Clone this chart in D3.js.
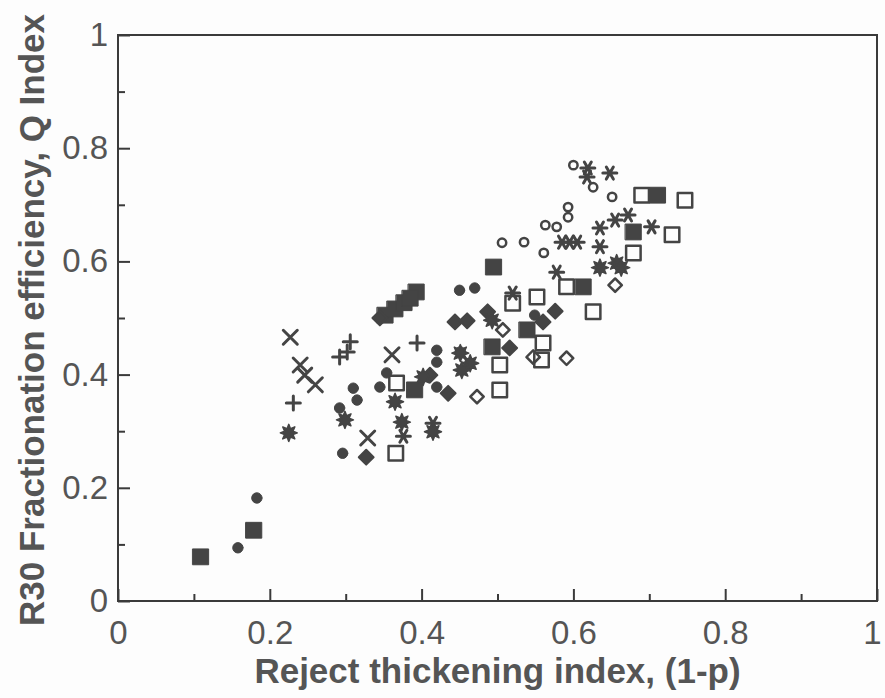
<!DOCTYPE html>
<html>
<head>
<meta charset="utf-8">
<script src="https://cdn.jsdelivr.net/npm/d3@7"></script>
<style>
  body { margin: 0; background: #fdfdfd; }
  svg { display: block; }
  text { font-family: "Liberation Sans", Arial, sans-serif; fill: #555; }
</style>
</head>
<body>
<div id="container"></div>
<script>
/* CONSTANTS AND GLOBALS */
const width = 885;
const height = 698;
const margin = { top: 35, right: 8, bottom: 97, left: 118 };
const ink = "#444";

/* DATA: [reject thickening index, Q index] */
const filledSquares = [
  [0.109, 0.078], [0.179, 0.125], [0.352, 0.505], [0.365, 0.516], [0.377, 0.527],
  [0.393, 0.546], [0.385, 0.535], [0.495, 0.590], [0.391, 0.373], [0.493, 0.449],
  [0.539, 0.479], [0.613, 0.555], [0.679, 0.652], [0.711, 0.717]
];
const openSquares = [
  [0.367, 0.385], [0.366, 0.261], [0.520, 0.526], [0.552, 0.537], [0.591, 0.555],
  [0.626, 0.511], [0.560, 0.456], [0.558, 0.426], [0.503, 0.417], [0.503, 0.373],
  [0.679, 0.615], [0.690, 0.717], [0.730, 0.647], [0.747, 0.708]
];
const filledCircles = [
  [0.158, 0.094], [0.183, 0.182], [0.310, 0.376], [0.315, 0.355], [0.345, 0.378],
  [0.354, 0.403], [0.292, 0.341], [0.296, 0.261], [0.450, 0.549], [0.470, 0.553],
  [0.451, 0.440], [0.420, 0.443], [0.420, 0.422], [0.420, 0.378], [0.549, 0.505]
];
const openCircles = [
  [0.600, 0.770], [0.626, 0.731], [0.651, 0.714], [0.593, 0.696], [0.593, 0.678],
  [0.506, 0.633], [0.535, 0.634], [0.563, 0.664], [0.578, 0.661], [0.561, 0.615]
];
const filledDiamonds = [
  [0.411, 0.399], [0.435, 0.367], [0.487, 0.511], [0.516, 0.447], [0.560, 0.493],
  [0.576, 0.512], [0.444, 0.493], [0.460, 0.495], [0.327, 0.254], [0.345, 0.500]
];
const openDiamonds = [
  [0.507, 0.479], [0.473, 0.361], [0.547, 0.431], [0.591, 0.429], [0.655, 0.558]
];
const crosses = [
  [0.227, 0.466], [0.240, 0.417], [0.246, 0.399], [0.260, 0.382], [0.361, 0.435],
  [0.329, 0.288]
];
const pluses = [
  [0.306, 0.458], [0.292, 0.431], [0.302, 0.440], [0.394, 0.456], [0.231, 0.350]
];
const asterisks = [
  [0.619, 0.765], [0.618, 0.749], [0.648, 0.756], [0.672, 0.682], [0.655, 0.673],
  [0.703, 0.661], [0.635, 0.659], [0.585, 0.634], [0.595, 0.634], [0.605, 0.634],
  [0.635, 0.626], [0.578, 0.581], [0.520, 0.544], [0.376, 0.291], [0.415, 0.314]
];
const filledStars = [
  [0.225, 0.297], [0.365, 0.352], [0.299, 0.320], [0.374, 0.316], [0.415, 0.299],
  [0.657, 0.597], [0.635, 0.589], [0.663, 0.589], [0.493, 0.496], [0.451, 0.438],
  [0.464, 0.420], [0.453, 0.408], [0.402, 0.396]
];
const majorTicks = [0, 0.2, 0.4, 0.6, 0.8, 1];
const minorTicks = [0.1, 0.3, 0.5, 0.7, 0.9];

/* SCALES */
const xScale = d3.scaleLinear().domain([0, 1]).range([margin.left, width - margin.right]);
const yScale = d3.scaleLinear().domain([0, 1]).range([height - margin.bottom, margin.top]);

/* SVG ELEMENT */
const svg = d3.select("#container")
  .append("svg")
  .attr("width", width)
  .attr("height", height);

/* FRAME */
svg.append("rect")
  .attr("x", margin.left)
  .attr("y", margin.top)
  .attr("width", width - margin.left - margin.right)
  .attr("height", height - margin.top - margin.bottom)
  .attr("fill", "none")
  .attr("stroke", "#3a3a3a")
  .attr("stroke-width", 2);

/* AXES (ticks pointing inward) */
const fmt = d => d === 0 || d === 1 ? String(d) : d3.format(".1f")(d);
const bottomY = height - margin.bottom;

function styleAxis(g) {
  g.selectAll(".domain").remove();
  g.selectAll("line").attr("stroke", "#3a3a3a").attr("stroke-width", 2);
  g.selectAll("text")
    .style("font-size", "33px")
    .style("font-family", "'Liberation Sans', Arial, sans-serif")
    .attr("fill", "#5a5a5a");
}

svg.append("g")
  .attr("transform", `translate(0, ${bottomY})`)
  .call(d3.axisBottom(xScale).tickValues(majorTicks).tickFormat(fmt).tickSizeInner(-12).tickPadding(20))
  .call(styleAxis)
  .selectAll("text")
  .attr("dx", d => d === 1 ? "-5" : null); // keep the last label inside the window
svg.append("g")
  .attr("transform", `translate(0, ${bottomY})`)
  .call(d3.axisBottom(xScale).tickValues(minorTicks).tickFormat("").tickSizeInner(-7))
  .call(styleAxis);

svg.append("g")
  .attr("transform", `translate(${margin.left}, 0)`)
  .call(d3.axisLeft(yScale).tickValues(majorTicks).tickFormat(fmt).tickSizeInner(-12).tickPadding(10))
  .call(styleAxis);
svg.append("g")
  .attr("transform", `translate(${margin.left}, 0)`)
  .call(d3.axisLeft(yScale).tickValues(minorTicks).tickFormat("").tickSizeInner(-7))
  .call(styleAxis);

/* MARKERS */
const crossPath = "M-7,-7L7,7M-7,7L7,-7";
const plusPath = "M-7,0L7,0M0,-7L0,7";
const asteriskPath = "M-7,0L7,0M-3.5,-6L3.5,6M-3.5,6L3.5,-6";
// 8-pointed filled burst
const burstPath = d3.lineRadial()
  .angle((d, i) => i * Math.PI / 8)
  .radius((d, i) => (i % 2 ? 4.5 : 8.5))
  .curve(d3.curveLinearClosed)(d3.range(16));

function plot(data, opts) {
  svg.append("g")
    .selectAll("path")
    .data(data)
    .join("path")
    .attr("transform", d => `translate(${xScale(d[0])},${yScale(d[1])})` + (opts.rotate ? ` rotate(${opts.rotate})` : ""))
    .attr("d", opts.path)
    .attr("fill", opts.fill ? ink : "none")
    .attr("stroke", ink)
    .attr("stroke-width", opts.sw || 2.5)
    .attr("stroke-linecap", "round")
    .attr("stroke-linejoin", "round");
}

plot(filledSquares, { path: d3.symbol(d3.symbolSquare, 250)(), fill: true, sw: 1 });
plot(openSquares, { path: d3.symbol(d3.symbolSquare, 210)(), fill: false, sw: 2.5 });
plot(filledCircles, { path: d3.symbol(d3.symbolCircle, 85)(), fill: true, sw: 1 });
plot(openCircles, { path: d3.symbol(d3.symbolCircle, 55)(), fill: false, sw: 2.5 });
plot(filledDiamonds, { path: d3.symbol(d3.symbolSquare, 110)(), fill: true, sw: 2, rotate: 45 });
plot(openDiamonds, { path: d3.symbol(d3.symbolSquare, 90)(), fill: false, sw: 2.5, rotate: 45 });
plot(crosses, { path: crossPath, fill: false, sw: 3 });
plot(pluses, { path: plusPath, fill: false, sw: 3 });
plot(asterisks, { path: asteriskPath, fill: false, sw: 3 });
plot(filledStars, { path: burstPath, fill: true, sw: 1.5 });

/* AXIS LABELS */
svg.append("text")
  .attr("x", (margin.left + width - margin.right) / 2)
  .attr("y", 683)
  .attr("text-anchor", "middle")
  .style("font-size", "35px")
  .style("font-weight", "bold")
  .text("Reject thickening index, (1-p)");

svg.append("text")
  .attr("transform", "rotate(-90)")
  .attr("x", -(margin.top + height - margin.bottom) / 2 - 2)
  .attr("y", 44)
  .attr("text-anchor", "middle")
  .style("font-size", "35px")
  .style("font-weight", "bold")
  .text("R30 Fractionation efficiency, Q Index");
</script>
</body>
</html>
